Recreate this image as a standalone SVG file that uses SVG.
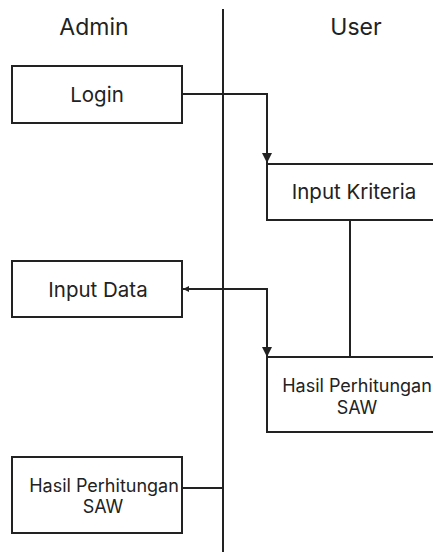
<svg xmlns="http://www.w3.org/2000/svg" width="433" height="552" viewBox="0 0 433 552">
<style>
.box{fill:#fff;stroke:#222;stroke-width:2}
.ln{fill:none;stroke:#222;stroke-width:2}
text{font-family:Inter,"Liberation Sans",Arial,sans-serif;fill:#222;text-anchor:middle}
.h{font-size:23px}
.t{font-size:20.5px}
.s{font-size:18px}
</style>
<defs>
<marker id="ad" viewBox="0 0 10 10" refX="10" refY="5" markerWidth="10" markerHeight="10" markerUnits="userSpaceOnUse" orient="auto"><path d="M0,0 L10,5 L0,10 Z" fill="#222"/></marker>
<marker id="as" viewBox="0 0 10 10" refX="10" refY="5" markerWidth="6" markerHeight="6" markerUnits="userSpaceOnUse" orient="auto-start-reverse"><path d="M0,0 L10,5 L0,10 Z" fill="#222"/></marker>
</defs>
<g id="lanes">
<line class="ln" x1="223" y1="9" x2="223" y2="552"/>
<text class="h" x="94" y="35">Admin</text>
<text class="h" x="356" y="35">User</text>
</g>
<g id="connectors">
<path class="ln" d="M182,94 H267 V163" marker-end="url(#ad)"/>
<path class="ln" d="M350,220 V357"/>
<path class="ln" d="M183,289 H267 V357" marker-start="url(#as)" marker-end="url(#ad)"/>
<path class="ln" d="M182,488 H223"/>
</g>
<g id="login">
<rect class="box" x="12" y="66" width="170" height="57"/>
<text class="t" x="97" y="102">Login</text>
</g>
<g id="input-kriteria">
<rect class="box" x="267" y="164" width="200" height="56"/>
<text class="t" x="354" y="199">Input Kriteria</text>
</g>
<g id="input-data">
<rect class="box" x="12" y="261" width="170" height="56"/>
<text class="t" x="98" y="297">Input Data</text>
</g>
<g id="hasil-user">
<rect class="box" x="267" y="357" width="200" height="75"/>
<text class="s" x="357" y="392">Hasil Perhitungan</text>
<text class="s" x="357" y="414">SAW</text>
</g>
<g id="hasil-admin">
<rect class="box" x="12" y="457" width="170" height="76"/>
<text class="s" x="104" y="492">Hasil Perhitungan</text>
<text class="s" x="103" y="513">SAW</text>
</g>
</svg>
